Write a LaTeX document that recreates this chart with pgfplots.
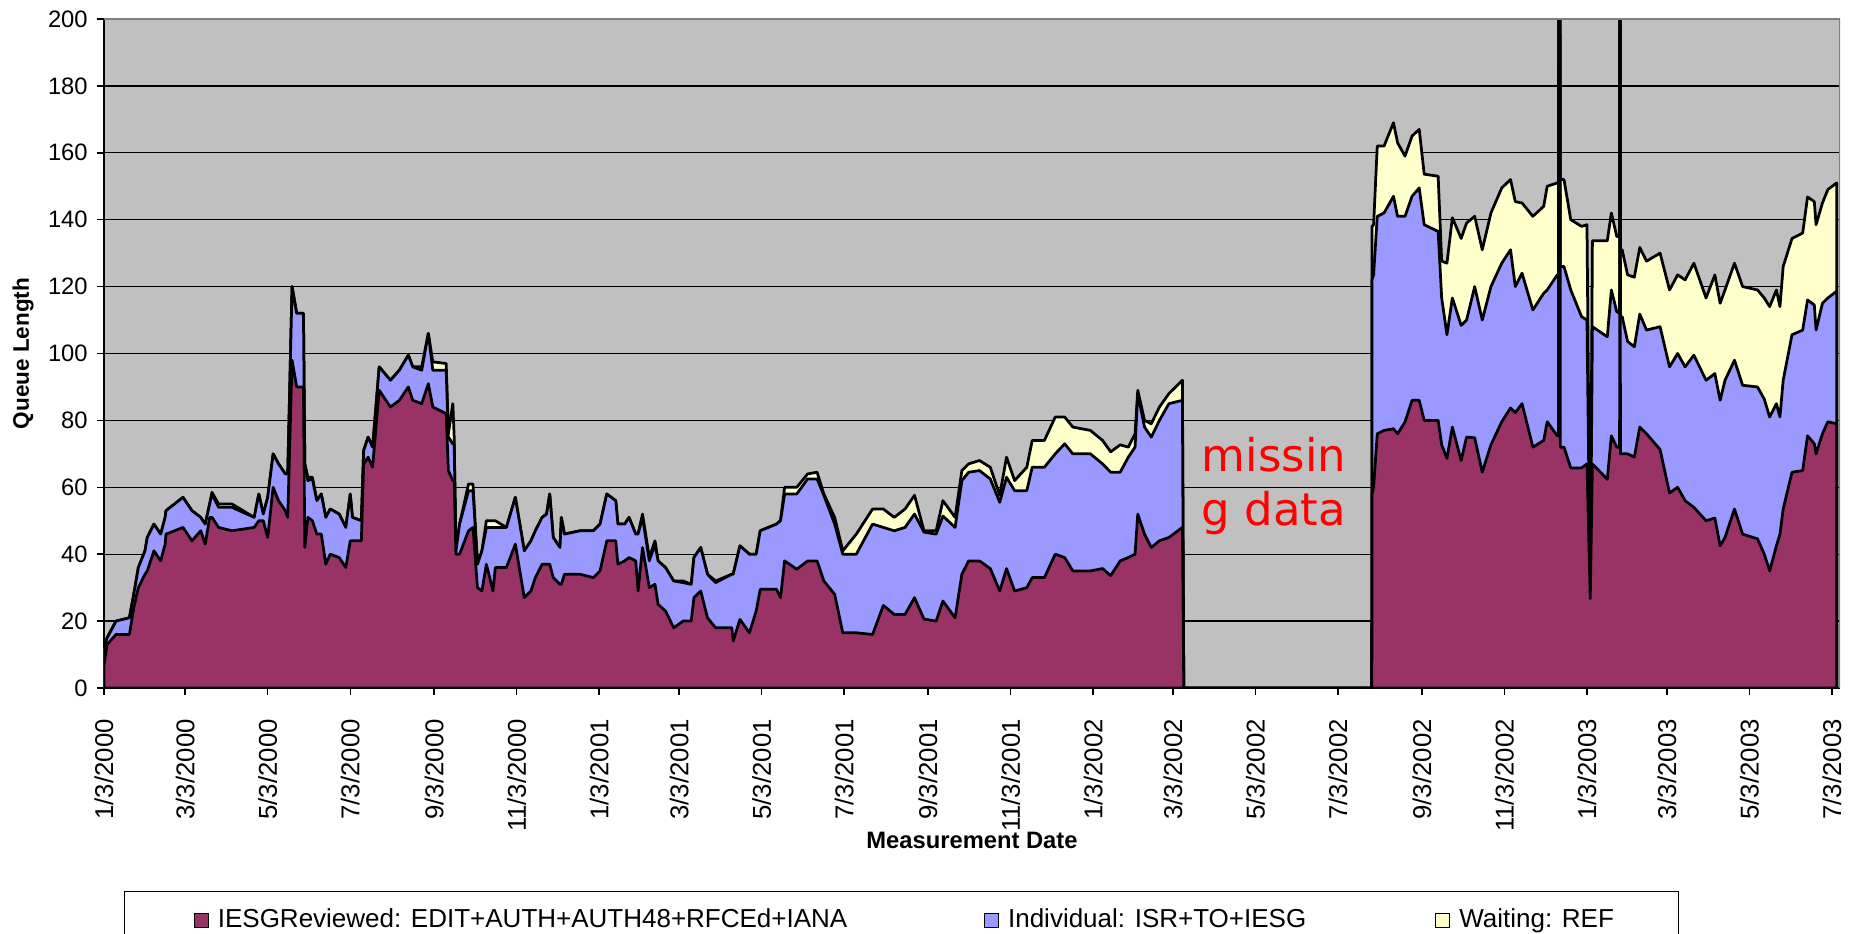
\documentclass[border=0pt]{standalone}
\usepackage{fontspec}
\setmainfont{Liberation Sans}
\newfontfamily\dejavu{DejaVu Sans}
\usepackage{pgfplots}
\usepackage{pgfplotstable}
\pgfplotsset{compat=1.18}
\definecolor{qmaroon}{HTML}{993366}
\definecolor{qblue}{HTML}{9999FF}
\definecolor{qyellow}{HTML}{FFFFCC}
\definecolor{qbg}{HTML}{C0C0C0}
\definecolor{qframe}{HTML}{808080}

% d = days since 1/3/2000 ; M, B, T = cumulative heights (maroon top, blue top, yellow top)
\pgfplotstableread{
d M B T
0 7 12 12
2.3 13 15 15
8.9 16 20 20
18.8 16 21 21
22 24 28 28
25.4 30 36 36
30.3 34 41 41
32 35 45 45
36.9 41 49 49
41.9 38 46 46
45.2 43 51 51
45.8 46 53 53
58.4 48 57 57
65 44 53 53
71.5 47 51 51
74.8 43 49 49
78.1 51 55 55
79.8 51 58 58.5
84.7 48 54 55
94.6 47 54 55
111 48 51 51
114.4 50 58 58
117.7 50 52 52
121 45 57 57
125 60 70 70
129 56 67 67
134 53 64 64
135.8 51 64 64
139 98 120 120
142.4 90 112 112
147.4 90 112 112
148.4 42 67 67
150.7 51 62 63
154 50 62.5 63
157.3 46 56 56
160.6 46 58 58
163.9 37 51 51
167.2 40 53.5 53.5
173.8 39 52 52
178.7 36 48 48
182 44 58 58
183.6 44 51 51
190.2 44 50 50
191.9 67 71 71
195.2 69 75 75
198.5 66 72 72
203.4 89 96 96
211.7 84 92 92
218.3 86 95 95
224.9 90 99.5 99.5
228.2 86 96 96
234.8 85 95 96
239.7 91 106 106
243 84 95 97.5
252.9 82 95 97
254.5 65 75 76
257.8 62 73 85
258.8 62 73 75
260.1 40 41 41
262.8 40 49 49
269.4 47 59 61
272.7 48 59 61
276 30 37 37
279.3 29 41 41
282.6 37 48 50
287.5 29 48 50
289.2 36 48 50
297.4 36 48 48
304 43 57 57
310.6 27 41 41
315.5 29 44 44
318.8 33 47 47
323.8 37 51 51
327.1 37 52 52
329.4 37 58 58
332 33 45 45
337 31 42 42
338 31 51 51
340.3 34 46 46
351.8 34 47 47
361.7 33 47 47
366.6 35 49 49
371.6 44 58 58
378.2 44 56 56
379.8 37 49 49
384.8 38 49 49
388 39 51 51
393 38 46 46
394.7 29 46 46
398 42 51 52
403 30 38 39
407.2 31 43 44
409.5 25 38 38
415 23 36 36
421 18 32 32
428 20 31.5 32
434 20 31 31
436 27 39 39
441 29 42 42
446 21 34 34
452 18 31.5 32
464 18 34 34
465 14 34 34
470 20.5 42.5 42.5
477 16.5 40 40
482 23 40 40
485 29.5 47 47
497 29.5 49 49
500 27 50 50
503 38 58 60
512 35.5 58 60
520 38 62.5 64
527 38 62.5 64.5
532 32 57.6 58
540 28 49 51
546 16.5 40 41
556 16.5 40 46
568 16 49 53.5
576 24.7 48 53.5
584 22 47 51
592 22 48 53.5
599 27 52 57.6
606 20.6 46.6 47
615 20 46 47
620 26 51.4 56
629 21 48 51
634 34 62 65
639 38 64.5 67
647 38 65 68
655 35.7 62.5 66
662 29 55.5 57.6
667 35.7 63 69
673 29 59 62
682 30 59 66
686 33 66 74
695 33 66 74
703 40 70 81
710 39 73 81
716 35 70 78
729 35 70 77
738 35.7 67 74
744 33.6 64.5 70.6
751 38 64.5 72.7
757 39 69 72
762 40 72 76
764 52 88 89
769 46 78 80
774 42 75 79
780 44 80 84
787 45 85 88
797 48 86 92
798 0 0 0
937 0 0 0
937.1 58 122 138
938.3 60 123.5 138.5
941 76 141 162
946 77 142 162
953 77.5 147 169
956 76 141 163
961.5 79.5 141 159
966.7 86 147 165
972 86 149.5 167
975.7 80 138.5 153.6
986 80 136.5 153
988.6 72.7 116.6 127.6
992.5 68.6 105.6 127
996.5 78 116.6 140.6
1003 68 108.4 134.4
1007 75 110 139
1013 74.8 120 141
1018.6 64.5 110 131
1025 72.7 120 142
1033 79.6 127 149.5
1039.5 83.7 131 152
1043 82.3 120 145.4
1048 85 124 145
1056 72 113 141
1064 74 118 144
1066.6 79.6 119 150
1074 75.4 123.5 151
1074.9 75.4 123.5 151
1075.3 260 260 260
1075.9 260 260 260
1076.3 72 126 152
1079 72 126 152
1084 65.8 119 140
1092 65.8 111 138
1096 67 110 138.5
1098.4 26.7 26.7 26.7
1100 67 108 133.7
1111 62.4 105 133.7
1114 75.4 119 142
1118 72 112.5 135
1120.1 72 112 135
1120.4 260 260 260
1120.7 70 111 131
1122 70 111 131
1126 70 103.6 123.5
1131 69 102 122.8
1135 78 111.8 131.7
1140 76 107 127.6
1150 71.3 108 130
1157 58.3 96 119
1163 60 100 123.5
1168.5 56 96 122
1175 54 99.5 127
1184 50 92 116.6
1190.5 50.8 94 123.5
1194.4 42.5 86 115
1198 45 92 119
1205 53.5 98 127
1211 46 90.5 120
1222 44.6 90 119
1227 40 86.4 116.6
1231 35 81 114
1236 42.5 85 119
1238.6 46 81 114
1241 53.5 92 126
1247.5 64.5 105.6 134.4
1255.4 65 107 136
1259 75.4 116 146.8
1264 73 114.5 145.4
1265.3 70 107 138.5
1270 76 115 145
1274 79.6 116.6 149
1280.5 79 118.6 151
}\qdata

\begin{document}
\begin{tikzpicture}
\begin{axis}[
  scale only axis,
  width=694.4pt, height=267.6pt,
  xmin=0, xmax=1283,
  ymin=0, ymax=200,
  axis x line*=bottom, axis y line*=left,
  axis line style={-, black, line width=0.8pt},
  axis background/.style={fill=qbg},
  ytick={0,20,...,200},
  ymajorgrids,
  grid style={black, line width=0.5pt},
  xtick={0,60,121,182,244,305,366,425,486,547,609,670,731,790,851,912,974,1035,1096,1155,1216,1277},
  xticklabels={1/3/2000,3/3/2000,5/3/2000,7/3/2000,9/3/2000,11/3/2000,1/3/2001,3/3/2001,5/3/2001,7/3/2001,9/3/2001,11/3/2001,1/3/2002,3/3/2002,5/3/2002,7/3/2002,9/3/2002,11/3/2002,1/3/2003,3/3/2003,5/3/2003,7/3/2003},
  tick align=outside,
  major tick length=3pt,
  tick style={black, line width=0.6pt},
  /pgf/number format/assume math mode=true,
  yticklabel style={font=\fontsize{9.5}{11}\selectfont},
  xticklabel style={font=\fontsize{10.3}{12}\selectfont, rotate=90, anchor=east},
  xticklabel shift=6pt,
  xlabel={Measurement Date},
  ylabel={Queue Length},
  every axis x label/.style={at={(axis description cs:0.5,0)}, anchor=center, yshift=-60.8pt, font=\bfseries\fontsize{9.5}{11}\selectfont},
  every axis y label/.style={at={([xshift=-32.4pt]axis description cs:0,0.5)}, anchor=center, rotate=90, font=\bfseries\fontsize{9}{11}\selectfont},
  legend columns=3,
  legend image code/.code={\draw[#1, draw=black, line width=0.5pt] (0pt,-2.8pt) rectangle (5.6pt,2.8pt);},
  legend style={at={(axis description cs:0.0115,-0.3034)}, anchor=north west,
    draw=black, line width=0.5pt, fill=white,
    inner xsep=27.6pt, inner ysep=5pt,
    font=\fontsize{10.4}{12}\selectfont,
    column sep=0pt, nodes={inner xsep=0pt},
    /tikz/every odd column/.append style={column sep=3.6pt}},
  legend cell align=left,
]
\addlegendimage{fill=qmaroon}
\addlegendentry{\makebox[306.4pt][l]{IESGReviewed: EDIT+AUTH+AUTH48+RFCEd+IANA}}
\addlegendimage{fill=qblue}
\addlegendentry{\makebox[170.8pt][l]{Individual: ISR+TO+IESG}}
\addlegendimage{fill=qyellow}
\addlegendentry{\makebox[60pt][l]{Waiting: REF}}

\addplot[fill=qyellow, draw=black, line width=1.1pt, line join=round, forget plot] table[x=d, y=T] {\qdata} \closedcycle;
\addplot[fill=qblue, draw=black, line width=1.1pt, line join=round, forget plot] table[x=d, y=B] {\qdata} \closedcycle;
\addplot[fill=qmaroon, draw=black, line width=1.1pt, line join=round, forget plot] table[x=d, y=M] {\qdata} \closedcycle;

\draw[qframe, line width=0.8pt] (rel axis cs:0,1) -- (rel axis cs:1,1) -- (rel axis cs:1,0);
\node[anchor=base west, text=red, font=\dejavu\fontsize{18}{20}\selectfont, inner sep=0pt] at (axis cs:811,64.7) {missin};
\node[anchor=base west, text=red, font=\dejavu\fontsize{18}{20}\selectfont, inner sep=0pt] at (axis cs:811,48.5) {g data};
\end{axis}
\pgfresetboundingbox
\path[use as bounding box] (-41.6pt,-98.4pt) rectangle (698.8pt,275.2pt);
\end{tikzpicture}
\end{document}
